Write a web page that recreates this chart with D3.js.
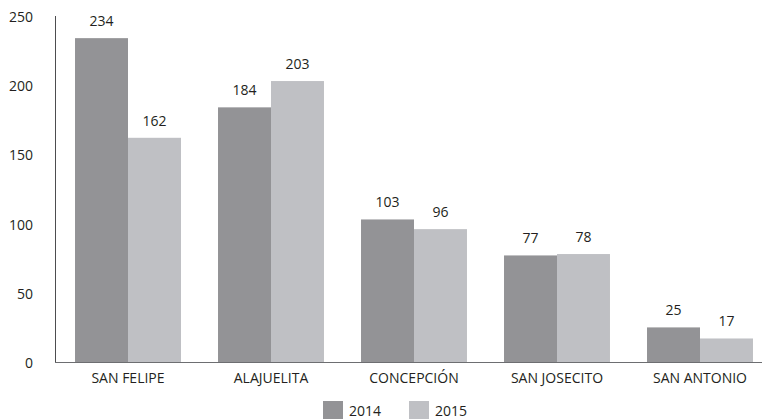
<!DOCTYPE html>
<html>
<head>
<meta charset="utf-8">
<script src="https://cdn.jsdelivr.net/npm/d3@7"></script>
<style>
  body { margin: 0; background: #fff; }
  text { font-family: "Open Sans", sans-serif; fill: #231f20; }
</style>
</head>
<body>
<svg id="chart"></svg>
<script>
const categories = ["SAN FELIPE", "ALAJUELITA", "CONCEPCIÓN", "SAN JOSECITO", "SAN ANTONIO"]
const years = ["2014", "2015"]
const values2014 = [234, 184, 103, 77, 25]
const values2015 = [162, 203, 96, 78, 17]
const yTicks = [0, 50, 100, 150, 200, 250]

const width = 762
const height = 419
const colors = { "2014": "#939396", "2015": "#bfc0c4" }

const svg = d3.select("#chart").attr("width", width).attr("height", height)

const rows = categories.map((c, i) => ({
  name: c,
  vals: [{ year: "2014", v: values2014[i] }, { year: "2015", v: values2015[i] }],
}))

const x0 = d3.scaleBand()
  .domain(categories)
  .range([55, 773])
  .paddingInner(0.259)
  .paddingOuter(0.14)

const x1 = d3.scaleBand().domain(years).range([0, x0.bandwidth()])

const y = d3.scaleLinear().domain([0, 250]).range([362, 16])

// y tick labels (no tick marks)
svg.append("g")
  .selectAll("text")
  .data(yTicks)
  .enter()
  .append("text")
  .attr("x", 33)
  .attr("y", (d) => y(d) + 1)
  .attr("dy", "0.35em")
  .attr("text-anchor", "end")
  .attr("font-size", 14)
  .text((d) => d)

// bars
const groups = svg.append("g")
  .selectAll("g")
  .data(rows)
  .enter()
  .append("g")
  .attr("transform", (d) => "translate(" + x0(d.name) + ",0)")

groups.selectAll("rect")
  .data((d) => d.vals)
  .enter()
  .append("rect")
  .attr("x", (d) => x1(d.year))
  .attr("y", (d) => y(d.v))
  .attr("width", x1.bandwidth())
  .attr("height", (d) => y(0) - y(d.v))
  .attr("fill", (d) => colors[d.year])

groups.selectAll(".val")
  .data((d) => d.vals)
  .enter()
  .append("text")
  .attr("class", "val")
  .attr("x", (d) => x1(d.year) + x1.bandwidth() / 2)
  .attr("y", (d) => y(d.v) - 12)
  .attr("text-anchor", "middle")
  .attr("font-size", 14)
  .text((d) => d.v)

// axis lines
svg.append("line")
  .attr("x1", 55.5).attr("x2", 55.5)
  .attr("y1", y(250)).attr("y2", y(0))
  .attr("stroke", "#4d4d4f").attr("stroke-width", 1)

svg.append("line")
  .attr("x1", 55).attr("x2", width)
  .attr("y1", y(0) + 0.5).attr("y2", y(0) + 0.5)
  .attr("stroke", "#6d6e71").attr("stroke-width", 1.2)

// category labels
svg.append("g")
  .selectAll("text")
  .data(categories)
  .enter()
  .append("text")
  .attr("x", (d) => x0(d) + x0.bandwidth() / 2)
  .attr("y", 383)
  .attr("text-anchor", "middle")
  .attr("font-size", 14)
  .text((d) => d)

// legend
const legend = svg.append("g")
  .selectAll("g")
  .data(years)
  .enter()
  .append("g")
  .attr("transform", (d, i) => "translate(" + (323 + i * 86) + ",401)")

legend.append("rect")
  .attr("width", 20).attr("height", 18)
  .attr("fill", (d) => colors[d])

legend.append("text")
  .attr("x", 26).attr("y", 15)
  .attr("font-size", 14)
  .text((d) => d)
</script>
</body>
</html>
